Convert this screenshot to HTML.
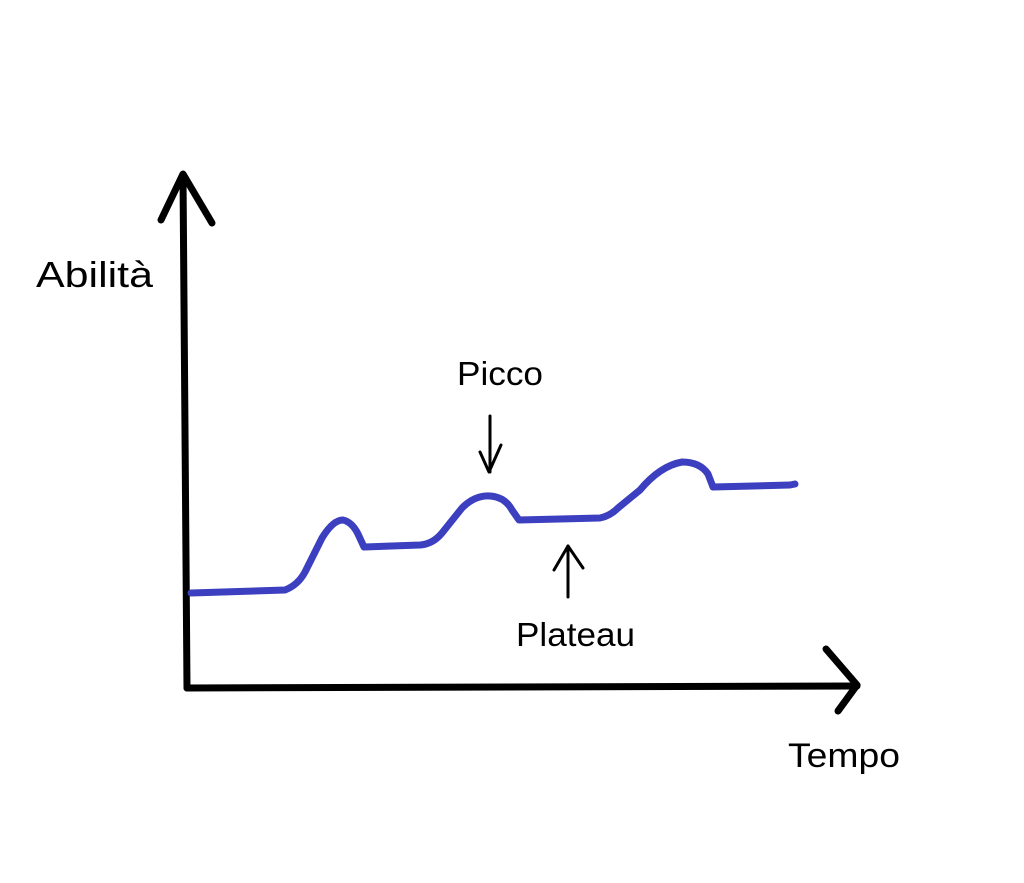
<!DOCTYPE html>
<html><head><meta charset="utf-8"><style>
html,body{margin:0;padding:0;background:#fff;}
svg{display:block}
text{font-family:"Liberation Sans","DejaVu Sans",sans-serif;fill:#000}
</style></head><body>
<svg width="1024" height="883" viewBox="0 0 1024 883" xmlns="http://www.w3.org/2000/svg">
<rect width="1024" height="883" fill="#fff"/>
<g stroke="#000" stroke-width="7" fill="none" stroke-linecap="round" stroke-linejoin="round">
<path d="M187 688 L183 176"/>
<path d="M161 220 L183 174 L212 223"/>
<path d="M187 688 L857 686"/>
<path d="M826 649 L857 685 L838 711"/>
</g>
<g stroke="#000" stroke-width="3" fill="none" stroke-linecap="round" stroke-linejoin="round">
<path d="M490 416 L490 472"/>
<path d="M480 452 L489 472 L501 445"/>
<path d="M568 597 L568 546"/>
<path d="M554 570 L568 546 L583 568"/>
</g>
<path d="M191 593 L285 590 Q298 585 305 572 L322 538 Q333 520 343 520 Q352 522 358 534 L364 547 L420 545 Q433 544 442 533 L462 508 Q475 495 490 496 Q505 497 512 510 L519 520 L600 518 Q610 516 618 508 L640 490 Q660 466 682 462 Q700 462 708 474 L713 487 L790 485 L795 484" fill="none" stroke="#3c3fbf" stroke-width="7" stroke-linecap="round" stroke-linejoin="round"/>
<text x="36" y="287" font-size="36" textLength="117" lengthAdjust="spacingAndGlyphs">Abilità</text>
<text x="457" y="385" font-size="33" textLength="86" lengthAdjust="spacingAndGlyphs">Picco</text>
<text x="516" y="646" font-size="33" textLength="119" lengthAdjust="spacingAndGlyphs">Plateau</text>
<text x="788" y="767" font-size="34" textLength="112" lengthAdjust="spacingAndGlyphs">Tempo</text>
</svg>
</body></html>
